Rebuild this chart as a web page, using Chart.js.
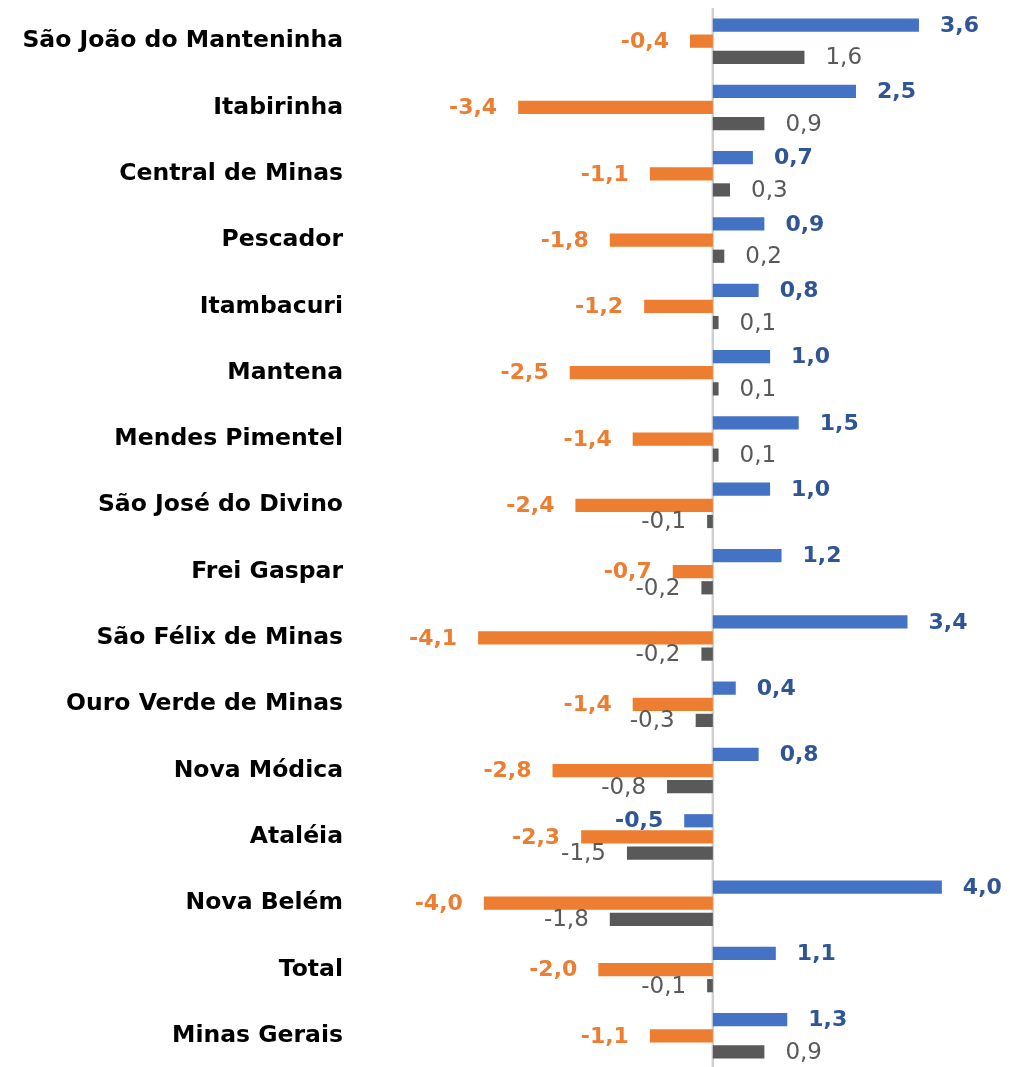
<!DOCTYPE html>
<html>
<head>
<meta charset="utf-8">
<script src="https://cdn.jsdelivr.net/npm/chart.js@4/dist/chart.umd.min.js"></script>
<style>
  html, body { margin: 0; padding: 0; background: #fff; overflow: hidden; }
  #wrap { width: 1010px; height: 1070px; }
</style>
</head>
<body>
<div id="wrap"><canvas id="myChart"></canvas></div>
<script>
// municipios, de cima para baixo
const categories = [
  "São João do Manteninha", "Itabirinha", "Central de Minas", "Pescador",
  "Itambacuri", "Mantena", "Mendes Pimentel", "São José do Divino",
  "Frei Gaspar", "São Félix de Minas", "Ouro Verde de Minas", "Nova Módica",
  "Ataléia", "Nova Belém", "Total", "Minas Gerais"
];
const blueValues   = [3.6, 2.5, 0.7, 0.9, 0.8, 1.0, 1.5, 1.0, 1.2, 3.4, 0.4, 0.8, -0.5, 4.0, 1.1, 1.3];
const orangeValues = [-0.4, -3.4, -1.1, -1.8, -1.2, -2.5, -1.4, -2.4, -0.7, -4.1, -1.4, -2.8, -2.3, -4.0, -2.0, -1.1];
const grayValues   = [1.6, 0.9, 0.3, 0.2, 0.1, 0.1, 0.1, -0.1, -0.2, -0.2, -0.3, -0.8, -1.5, -1.8, -0.1, 0.9];

const labelColors = ['#2F5597', '#ED7D31', '#595959'];
const labelFonts = [
  'bold 22px "DejaVu Sans"',
  'bold 22px "DejaVu Sans"',
  '23px "DejaVu Sans"'
];

// rotulos de valor na ponta de cada barra
const valueLabels = {
  id: 'valueLabels',
  afterDatasetsDraw(chart) {
    const ctx = chart.ctx;
    chart.data.datasets.forEach((ds, i) => {
      const meta = chart.getDatasetMeta(i);
      meta.data.forEach((bar, j) => {
        const v = ds.data[j];
        ctx.save();
        ctx.font = labelFonts[i];
        ctx.fillStyle = labelColors[i];
        ctx.textBaseline = 'middle';
        let x;
        if (v >= 0) { ctx.textAlign = 'left'; x = bar.x + 21; }
        else { ctx.textAlign = 'right'; x = bar.x - 21; }
        ctx.fillText(v.toFixed(1).replace('.', ','), x, bar.y + 1);
        ctx.restore();
      });
    });
  }
};

// linha do zero
const zeroLine = {
  id: 'zeroLine',
  beforeDatasetsDraw(chart) {
    const ctx = chart.ctx;
    const x = chart.scales.x.getPixelForValue(0);
    ctx.save();
    ctx.strokeStyle = '#d0d0d0';
    ctx.lineWidth = 2.5;
    ctx.beginPath();
    ctx.moveTo(x, chart.chartArea.top);
    ctx.lineTo(x, chart.height);
    ctx.stroke();
    ctx.restore();
  }
};

const ctx = document.getElementById('myChart').getContext('2d');
const myChart = new Chart(ctx, {
  type: 'bar',
  data: {
    labels: categories,
    datasets: [
      { label: 'Série 1', data: blueValues, backgroundColor: '#4472C4' },
      { label: 'Série 2', data: orangeValues, backgroundColor: '#ED7D31' },
      { label: 'Série 3', data: grayValues, backgroundColor: '#595959' }
    ]
  },
  options: {
    indexAxis: 'y',
    responsive: true,
    maintainAspectRatio: false,
    animation: false,
    categoryPercentage: 0.73,
    barPercentage: 0.82,
    layout: { autoPadding: false, padding: { top: 8, bottom: 1, left: 0, right: 0 } },
    plugins: {
      legend: { display: false },
      tooltip: { enabled: false }
    },
    scales: {
      x: {
        display: false,
        min: -6.25,
        max: 5.19
      },
      y: {
        grid: { display: false, drawTicks: false },
        border: { display: false },
        ticks: {
          color: '#000',
          padding: 12,
          font: { family: 'DejaVu Sans', weight: 'bold', size: 23.5 }
        },
        afterFit(scale) {
          scale.width = 355;
          scale.paddingTop = 0;
          scale.paddingBottom = 0;
        }
      }
    }
  },
  plugins: [zeroLine, valueLabels]
});
</script>
</body>
</html>
